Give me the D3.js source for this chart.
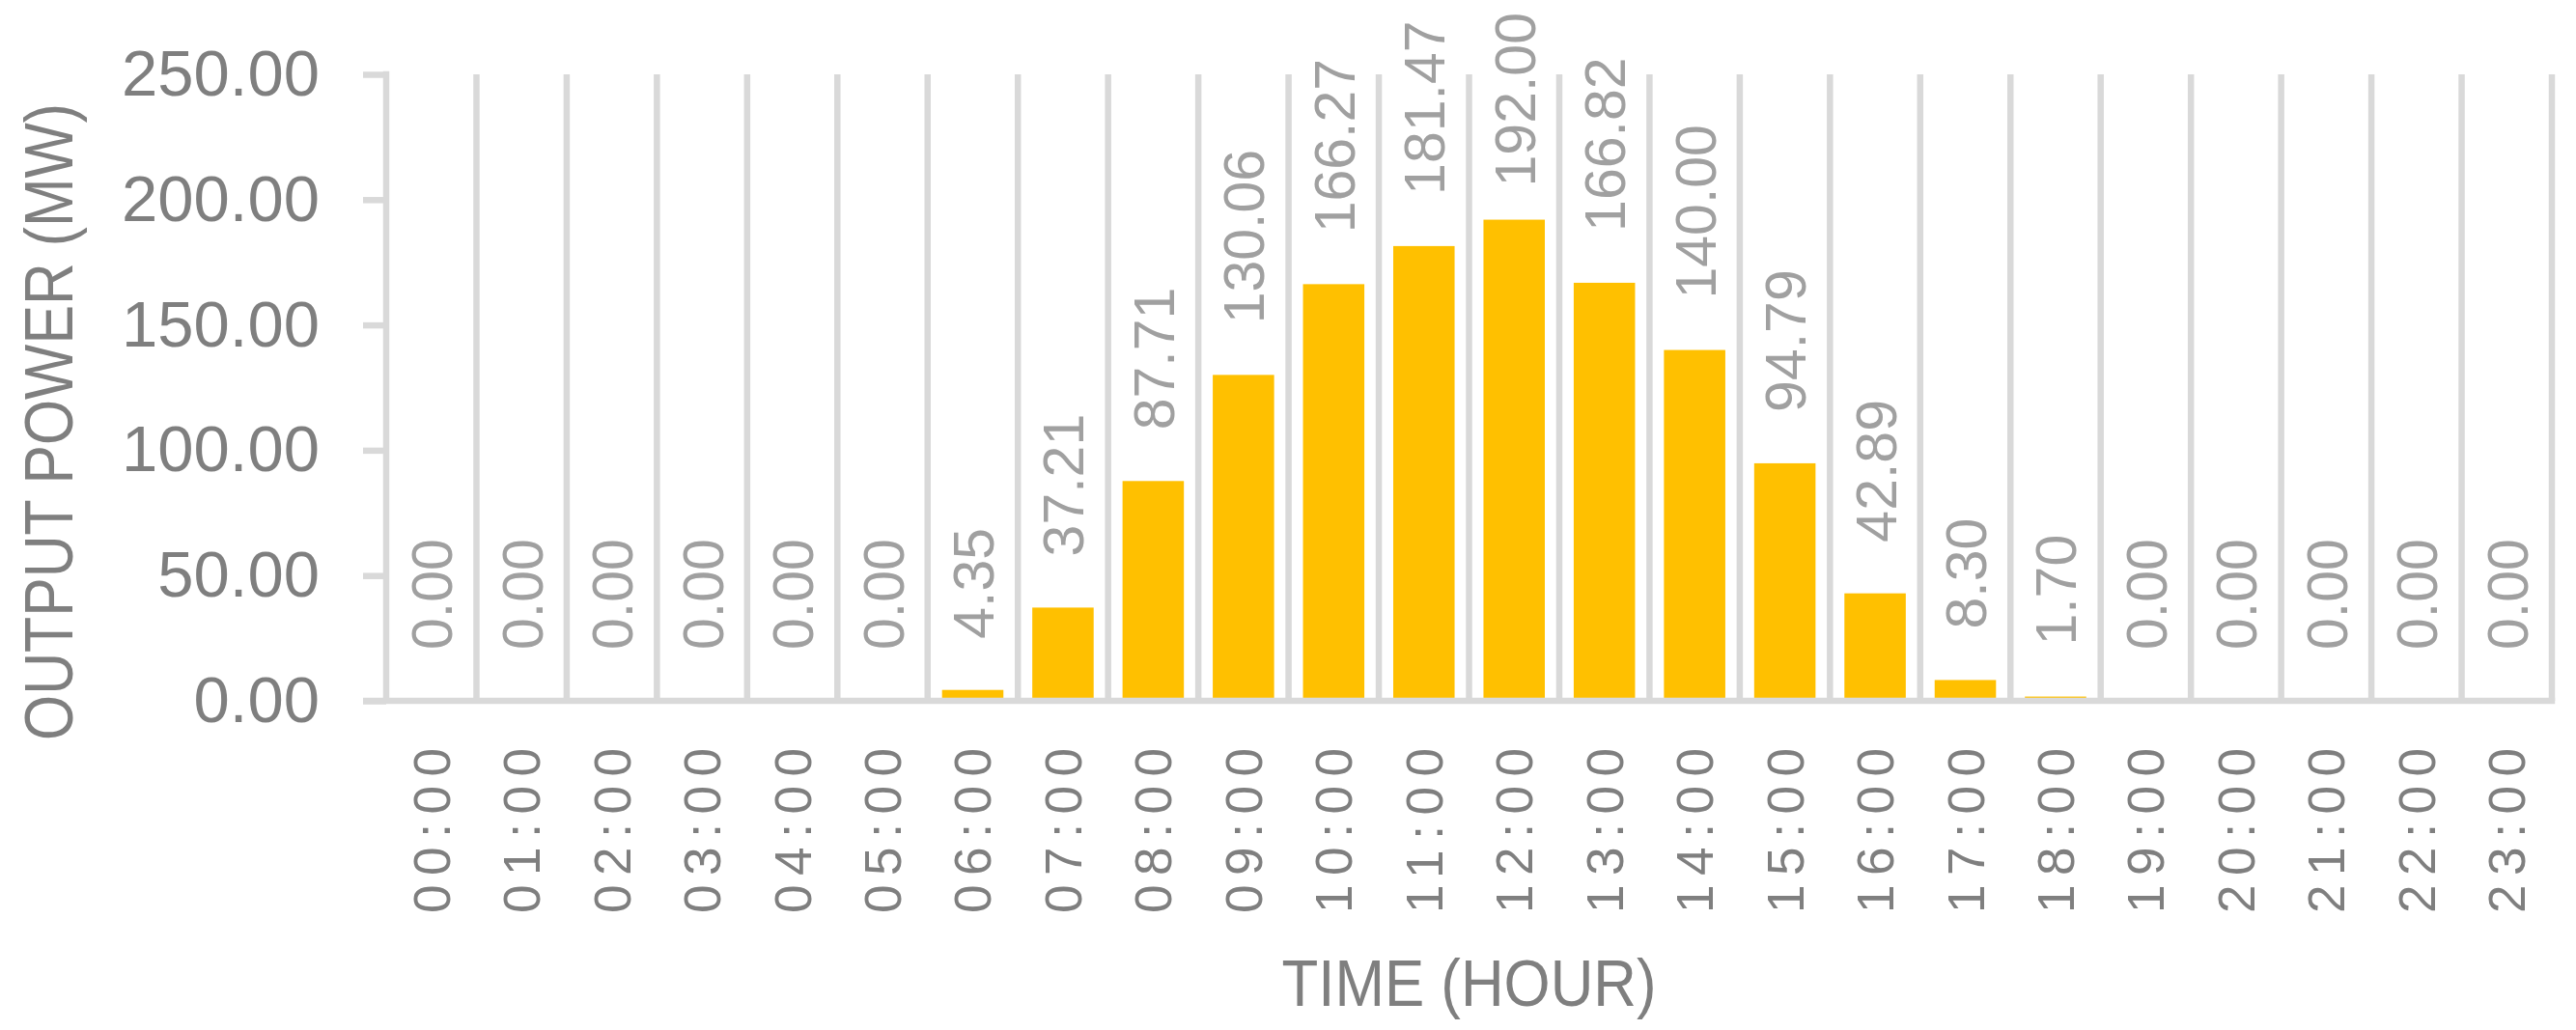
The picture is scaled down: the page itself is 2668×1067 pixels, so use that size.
<!DOCTYPE html>
<html lang="en">
  <head>
    <title>Output power by hour</title>
    <meta charset="utf-8" />
    <script type="text/javascript" src="https://d3js.org/d3.v7.min.js"></script>
    <style>
      body { margin: 0; background: #ffffff; }
      text { font-family: "Liberation Sans", Arial, sans-serif; }
    </style>
  </head>

  <body>
    <div class="div_d3"></div>

    <script type="text/javascript">
      // data
      let hours = [
        "00:00", "01:00", "02:00", "03:00", "04:00", "05:00", "06:00", "07:00",
        "08:00", "09:00", "10:00", "11:00", "12:00", "13:00", "14:00", "15:00",
        "16:00", "17:00", "18:00", "19:00", "20:00", "21:00", "22:00", "23:00",
      ];
      let power = [
        0, 0, 0, 0, 0, 0, 4.35, 37.21, 87.71, 130.06, 166.27, 181.47, 192.0,
        166.82, 140.0, 94.79, 42.89, 8.3, 1.7, 0, 0, 0, 0, 0,
      ];
      let yTicks = [0, 50, 100, 150, 200, 250];
      let xTitle = "TIME (HOUR)";
      let yTitle = "OUTPUT POWER (MW)";

      let w = 2668;
      let h = 1067;
      let plotLeft = 400;
      let plotRight = 2643;
      let plotTop = 77;
      let plotBottom = 726;

      let gridColor = "#d9d9d9";
      let lineW = 6.5;

      let svg = d3
        .select(".div_d3")
        .append("svg")
        .attr("width", w)
        .attr("height", h);

      let x = d3
        .scaleBand()
        .domain(hours)
        .range([plotLeft, plotRight])
        .paddingInner(0.32)
        .paddingOuter(0.16);

      let y = d3.scaleLinear().domain([0, 250]).range([plotBottom, plotTop]);

      // vertical gridlines between categories
      svg
        .append("g")
        .selectAll("line")
        .data(hours)
        .join("line")
        .attr("x1", function (d) {
          return x(d) - x.step() * 0.16 + x.step();
        })
        .attr("x2", function (d) {
          return x(d) - x.step() * 0.16 + x.step();
        })
        .attr("y1", plotTop)
        .attr("y2", plotBottom)
        .style("stroke", gridColor)
        .style("stroke-width", lineW);

      // bars
      svg
        .append("g")
        .selectAll("rect")
        .data(power)
        .join("rect")
        .attr("x", function (d, i) {
          return x(hours[i]);
        })
        .attr("y", function (d) {
          return y(d);
        })
        .attr("width", x.bandwidth())
        .attr("height", function (d) {
          return plotBottom - y(d);
        })
        .style("fill", "#ffc000");

      // y axis with ticks on the left
      let yAxis = d3
        .axisLeft(y)
        .tickValues(yTicks)
        .tickSize(24)
        .tickPadding(45)
        .tickFormat(d3.format(".2f"));

      let gy = svg
        .append("g")
        .attr("transform", `translate(${plotLeft},0)`)
        .call(yAxis);
      gy.select(".domain").remove();
      gy.selectAll(".tick line")
        .style("stroke", gridColor)
        .style("stroke-width", lineW);
      gy.selectAll(".tick text")
        .attr("dy", "0.32em")
        .style("font-family", "'Liberation Sans', Arial, sans-serif")
        .style("font-size", "67px")
        .style("fill", "#7f7f7f");

      svg
        .append("line")
        .attr("x1", plotLeft)
        .attr("x2", plotLeft)
        .attr("y1", plotTop - lineW / 2)
        .attr("y2", plotBottom)
        .style("stroke", gridColor)
        .style("stroke-width", lineW);

      svg
        .append("line")
        .attr("x1", plotLeft - 24)
        .attr("x2", plotRight + lineW / 2)
        .attr("y1", plotBottom)
        .attr("y2", plotBottom)
        .style("stroke", gridColor)
        .style("stroke-width", lineW);

      // x tick labels, rotated
      svg
        .append("g")
        .selectAll("text")
        .data(hours)
        .join("text")
        .text(function (d) {
          return d;
        })
        .attr("transform", function (d) {
          let cx = x(d) + x.bandwidth() / 2 + 19;
          return `translate(${cx},775) rotate(-90)`;
        })
        .attr("text-anchor", "end")
        .attr("textLength", 171)
        .style("font-size", "53px")
        .style("fill", "#7f7f7f");

      // data labels above the bars
      svg
        .append("g")
        .selectAll("text")
        .data(power)
        .join("text")
        .text(function (d) {
          return d3.format(".2f")(d);
        })
        .style("font-size", "59px")
        .style("fill", "#a0a0a0")
        .attr("transform", function (d, i) {
          let cx = x(hours[i]) + x.bandwidth() / 2 + 21.5;
          let len = this.getComputedTextLength();
          let start = y(d) - 53;
          // keep label inside the chart top
          if (start - len < 13) {
            start = 13 + len;
          }
          return `translate(${cx},${start}) rotate(-90)`;
        });

      // axis titles
      svg
        .append("text")
        .text(xTitle)
        .attr("x", (plotLeft + plotRight) / 2)
        .attr("y", 1042)
        .attr("text-anchor", "middle")
        .attr("textLength", 388)
        .attr("lengthAdjust", "spacingAndGlyphs")
        .style("font-size", "68px")
        .style("fill", "#7f7f7f");

      svg
        .append("text")
        .text(yTitle)
        .attr("transform", "translate(75,437) rotate(-90)")
        .attr("text-anchor", "middle")
        .attr("textLength", 660)
        .attr("lengthAdjust", "spacingAndGlyphs")
        .style("font-size", "70px")
        .style("fill", "#7f7f7f");
    </script>
  </body>
</html>
